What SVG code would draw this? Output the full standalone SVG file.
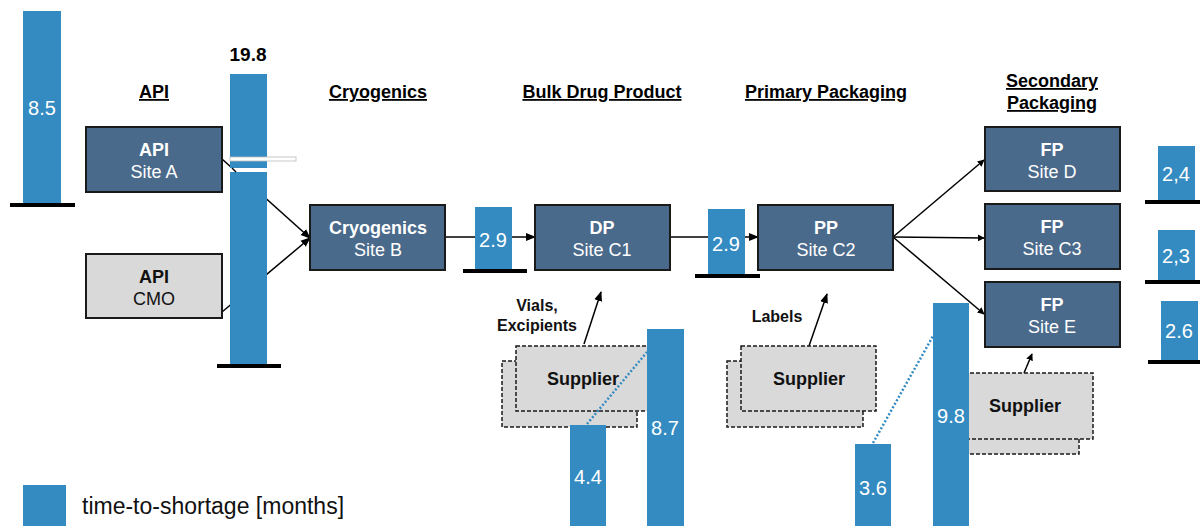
<svg xmlns="http://www.w3.org/2000/svg" width="1200" height="526" viewBox="0 0 1200 526">
<style>
text{font-family:"Liberation Sans",Arial,sans-serif}
.bar{fill:#348bc1}
.base{stroke:#000;stroke-width:4}
.bv{fill:#fff;font-size:20px;text-anchor:middle}
.node{fill:#4a6a8b;stroke:#1a1a1a;stroke-width:2}
.lnode{fill:#d9d9d9;stroke:#1a1a1a;stroke-width:2}
.nt{font-size:18px;text-anchor:middle;fill:#fff}
.nb{font-weight:bold}
.hd{font-size:18px;font-weight:bold;text-decoration:underline;text-anchor:middle;fill:#000}
.sup{fill:#d9d9d9;stroke:#1a1a1a;stroke-width:1.5;stroke-dasharray:4 2}
.st{font-size:18px;font-weight:bold;text-anchor:middle;fill:#111}
.lb{font-size:16px;font-weight:bold;text-anchor:middle;fill:#111}
.con{stroke:#000;stroke-width:1.5;fill:none}
.dot{stroke:#348bc1;stroke-width:2.5;stroke-dasharray:2 2;fill:none}
</style>
<defs>
<marker id="ah" viewBox="0 0 10 10" refX="9" refY="5" markerWidth="7" markerHeight="7" orient="auto" markerUnits="userSpaceOnUse">
<path d="M0,0 L10,5 L0,10 z" fill="#000"/>
</marker>
<marker id="ah2" viewBox="0 0 10 10" refX="9" refY="5" markerWidth="10" markerHeight="10" orient="auto" markerUnits="userSpaceOnUse">
<path d="M0,1 L10,5 L0,9 z" fill="#000"/>
</marker>
</defs>

<g id="headers">
<text class="hd" x="154" y="98">API</text>
<text class="hd" x="378" y="98">Cryogenics</text>
<text class="hd" x="602" y="98">Bulk Drug Product</text>
<text class="hd" x="826" y="98">Primary Packaging</text>
<text class="hd" x="1052" y="87">Secondary</text>
<text class="hd" x="1052" y="109">Packaging</text>
</g>

<g id="connectors">
<line class="con" x1="222" y1="159" x2="310" y2="238" marker-end="url(#ah2)"/>
<line class="con" x1="222" y1="312" x2="310" y2="238" marker-end="url(#ah2)"/>
<line class="con" x1="445" y1="237" x2="535" y2="237" marker-end="url(#ah2)"/>
<line class="con" x1="670" y1="237" x2="758" y2="237" marker-end="url(#ah2)"/>
<line class="con" x1="893" y1="237" x2="984" y2="160" marker-end="url(#ah)"/>
<line class="con" x1="893" y1="237" x2="984" y2="238" marker-end="url(#ah)"/>
<line class="con" x1="893" y1="237" x2="984" y2="314" marker-end="url(#ah)"/>
<line class="con" x1="584" y1="344" x2="601" y2="292" marker-end="url(#ah2)"/>
<line class="con" x1="809" y1="346" x2="827" y2="294" marker-end="url(#ah2)"/>
<line class="con" x1="1024" y1="373" x2="1032" y2="354" marker-end="url(#ah)"/>
</g>

<g id="node-api-a">
<rect class="node" x="86" y="127" width="136" height="65"/>
<text class="nt nb" x="154" y="156">API</text>
<text class="nt" x="154" y="178">Site A</text>
</g>
<g id="node-api-cmo">
<rect class="lnode" x="86" y="254" width="136" height="64"/>
<text class="nt nb" x="154" y="283" style="fill:#111">API</text>
<text class="nt" x="154" y="305" style="fill:#111">CMO</text>
</g>

<g id="bar-85">
<rect class="bar" x="23" y="11" width="38" height="194"/>
<line class="base" x1="10" y1="205" x2="75" y2="205"/>
<text class="bv" x="42" y="115">8.5</text>
</g>

<g id="bar-198">
<text x="248" y="61" style="font-size:19px;font-weight:bold;text-anchor:middle">19.8</text>
<rect class="bar" x="230" y="74" width="37" height="292"/>
<rect x="230" y="157" width="66" height="4" fill="#fff" stroke="#bbb" stroke-width="0.8"/>
<rect x="230" y="168" width="37" height="4" fill="#fff"/>
<line x1="232" y1="168" x2="236" y2="172" stroke="#000" stroke-width="1.5"/>
<line class="base" x1="217" y1="366" x2="281" y2="366"/>
</g>

<g id="node-cryo">
<rect class="node" x="310" y="205" width="135" height="65"/>
<text class="nt nb" x="378" y="234">Cryogenics</text>
<text class="nt" x="378" y="256">Site B</text>
</g>

<g id="bar-29a">
<rect class="bar" x="475" y="207" width="37" height="64"/>
<line class="base" x1="463" y1="271" x2="527" y2="271"/>
<text class="bv" x="493" y="247">2.9</text>
</g>

<g id="node-dp">
<rect class="node" x="535" y="205" width="135" height="65"/>
<text class="nt nb" x="602" y="234">DP</text>
<text class="nt" x="602" y="256">Site C1</text>
</g>

<g id="bar-29b">
<rect class="bar" x="708" y="209" width="37" height="67"/>
<line class="base" x1="695" y1="276" x2="760" y2="276"/>
<text class="bv" x="726" y="251">2.9</text>
</g>

<g id="node-pp">
<rect class="node" x="758" y="205" width="135" height="65"/>
<text class="nt nb" x="826" y="234">PP</text>
<text class="nt" x="826" y="256">Site C2</text>
</g>

<g id="node-fp-d">
<rect class="node" x="985" y="127" width="135" height="64"/>
<text class="nt nb" x="1052" y="156">FP</text>
<text class="nt" x="1052" y="178">Site D</text>
</g>
<g id="node-fp-c3">
<rect class="node" x="985" y="204" width="135" height="65"/>
<text class="nt nb" x="1052" y="233">FP</text>
<text class="nt" x="1052" y="255">Site C3</text>
</g>
<g id="node-fp-e">
<rect class="node" x="985" y="282" width="135" height="65"/>
<text class="nt nb" x="1052" y="311">FP</text>
<text class="nt" x="1052" y="333">Site E</text>
</g>

<g id="bar-24">
<rect class="bar" x="1158" y="146" width="37" height="56"/>
<line class="base" x1="1145" y1="202" x2="1200" y2="202"/>
<text class="bv" x="1176" y="181">2,4</text>
</g>
<g id="bar-23">
<rect class="bar" x="1158" y="230" width="37" height="52"/>
<line class="base" x1="1145" y1="282" x2="1200" y2="282"/>
<text class="bv" x="1176" y="263">2,3</text>
</g>
<g id="bar-26">
<rect class="bar" x="1161" y="301" width="37" height="61"/>
<line class="base" x1="1148" y1="362" x2="1200" y2="362"/>
<text class="bv" x="1179" y="338">2.6</text>
</g>

<g id="label-vials">
<text class="lb" x="537" y="311">Vials,</text>
<text class="lb" x="537" y="331">Excipients</text>
</g>
<g id="supplier-1">
<rect class="sup" x="502" y="361" width="135" height="66"/>
<rect class="sup" x="516" y="346" width="134" height="65"/>
<text class="st" x="583" y="385">Supplier</text>
</g>

<g id="label-labels">
<text class="lb" x="777" y="322">Labels</text>
</g>
<g id="supplier-2">
<rect class="sup" x="727" y="361" width="136" height="66"/>
<rect class="sup" x="741" y="346" width="135" height="65"/>
<text class="st" x="809" y="385">Supplier</text>
</g>

<g id="supplier-3">
<rect class="sup" x="944" y="388" width="135" height="66"/>
<rect class="sup" x="958" y="373" width="135" height="66"/>
<text class="st" x="1025" y="412">Supplier</text>
</g>

<g id="bars-suppliers">
<line class="dot" x1="587" y1="424" x2="647" y2="352"/>
<rect class="bar" x="570" y="425" width="36" height="101"/>
<text class="bv" x="588" y="484">4.4</text>
<rect class="bar" x="647" y="329" width="37" height="197"/>
<text class="bv" x="665" y="435">8.7</text>
<line class="dot" x1="873" y1="443" x2="933" y2="336"/>
<rect class="bar" x="855" y="444" width="36" height="82"/>
<text class="bv" x="873" y="495">3.6</text>
<rect class="bar" x="933" y="303" width="36" height="223"/>
<text class="bv" x="951" y="423">9.8</text>
</g>

<g id="legend">
<rect class="bar" x="23" y="485" width="43" height="41"/>
<text x="82" y="514" style="font-size:23px;fill:#111">time-to-shortage [months]</text>
</g>
</svg>
